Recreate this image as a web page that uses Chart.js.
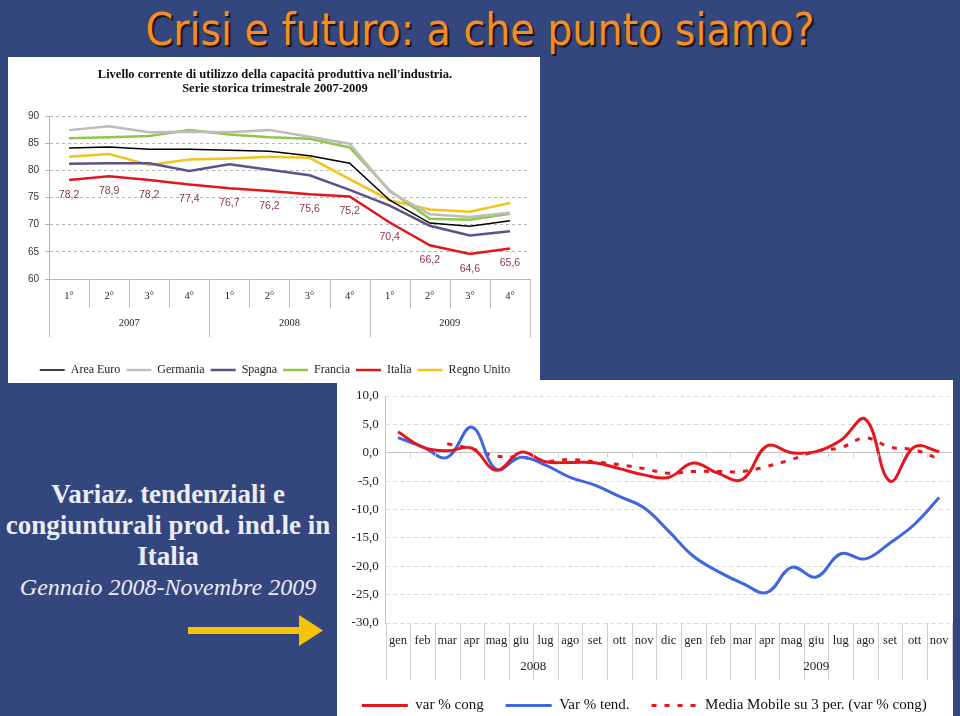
<!DOCTYPE html>
<html>
<head>
<meta charset="utf-8">
<script src="https://cdn.jsdelivr.net/npm/chart.js@4.4.1/dist/chart.umd.min.js"></script>
<style>
html, body { margin: 0; padding: 0; }
body { width: 960px; height: 716px; background: #34467e; position: relative; overflow: hidden; font-family: "Liberation Serif", serif; }
#titolo { position: absolute; left: 0; top: 0; width: 960px; text-align: center; font-family: "DejaVu Sans Condensed", "DejaVu Sans", sans-serif; font-stretch: condensed; font-size: 44px; line-height: 60px; color: #f68e1f; text-shadow: 2px 2px 1px #151515; }
#boxSopra { position: absolute; left: 8px; top: 57px; width: 532px; height: 326px; background: #fff; }
#boxSotto { position: absolute; left: 337px; top: 380px; width: 616px; height: 336px; background: #fff; }
canvas { position: absolute; left: 0; top: 0; }
#testo { position: absolute; left: 0; top: 479px; width: 336px; text-align: center; color: #ececf4; }
#testo .b { font-weight: bold; font-size: 27px; line-height: 31px; }
#testo .i { font-style: italic; font-size: 24px; line-height: 31px; }
#freccia { position: absolute; left: 185px; top: 614px; }
</style>
</head>
<body>
<div id="titolo">Crisi e futuro: a che punto siamo?</div>
<div id="boxSopra"><canvas id="graficoSopra" width="532" height="329"></canvas></div>
<div id="boxSotto"><canvas id="graficoSotto" width="616" height="343"></canvas></div>
<div id="testo">
  <div class="b">Variaz. tendenziali e</div>
  <div class="b">congiunturali prod. ind.le in</div>
  <div class="b">Italia</div>
  <div class="i">Gennaio 2008-Novembre 2009</div>
</div>
<svg id="freccia" width="142" height="34">
  <rect x="3" y="13" width="114" height="7" fill="#f5c400"/>
  <polygon points="114,1 138,16.5 114,32" fill="#f5c400"/>
</svg>
<script>
// --- grafico in alto: utilizzo capacità produttiva ---
const trimestri = ['1°', '2°', '3°', '4°', '1°', '2°', '3°', '4°', '1°', '2°', '3°', '4°'];
const anniTrim = ['2007', '2008', '2009'];
const spanTrim = [4, 4, 4];
const areaEuro = [84.1, 84.3, 83.9, 83.9, 83.7, 83.5, 82.7, 81.3, 74.5, 70.3, 69.7, 70.7];
const germania = [87.4, 88.1, 87.0, 87.1, 87.0, 87.4, 86.2, 84.9, 76.1, 71.9, 71.4, 72.2];
const spagna = [81.2, 81.3, 81.3, 79.9, 81.1, 80.1, 79.1, 76.4, 73.5, 69.8, 68.0, 68.8];
const francia = [85.9, 86.1, 86.3, 87.4, 86.6, 86.1, 85.8, 84.2, 76.3, 71.1, 70.9, 72.0];
const italia = [78.2, 78.9, 78.2, 77.4, 76.7, 76.2, 75.6, 75.2, 70.4, 66.2, 64.6, 65.6];
const regnoUnito = [82.5, 83.0, 81.0, 82.0, 82.2, 82.5, 82.3, 78.4, 74.5, 72.8, 72.4, 74.0];
const tickSopra = [60, 65, 70, 75, 80, 85, 90];

// --- grafico in basso: produzione industriale ---
const mesi = ['gen', 'feb', 'mar', 'apr', 'mag', 'giu', 'lug', 'ago', 'set', 'ott', 'nov', 'dic',
              'gen', 'feb', 'mar', 'apr', 'mag', 'giu', 'lug', 'ago', 'set', 'ott', 'nov'];
const anniMesi = ['2008', '2009'];
const spanMesi = [12, 11];
const varCong = [3.7, 1.0, 0.35, 0.8, -3.1, 0.1, -1.6, -1.7, -1.75, -2.8, -3.9, -4.35,
                 -1.8, -3.6, -4.7, 1.2, 0.0, 0.2, 2.2, 5.9, -5.0, 1.05, 0.2];
const varTend = [2.65, 1.05, -0.8, 4.5, -2.9, -0.8, -2.2, -4.35, -5.7, -7.7, -9.7, -13.8,
                 -18.2, -20.9, -23.0, -24.6, -20.2, -21.9, -17.8, -18.7, -15.9, -12.6, -7.9];
const mediaMobile = [null, null, 1.6, 0.7, -0.6, -0.8, -1.5, -1.2, -1.6, -2.1, -2.8, -3.6,
                     -3.3, -3.3, -3.3, -2.4, -1.2, 0.3, 0.9, 2.6, 1.0, 0.5, -1.1];
const tickSotto = [-30, -25, -20, -15, -10, -5, 0, 5, 10];

// separatori delle categorie sotto l'asse + etichette degli anni
const separatori = {
    id: 'separatori',
    afterDraw(chart, args, opts) {
        const x = chart.scales.x, ctx = chart.ctx, area = chart.chartArea;
        const n = chart.data.labels.length;
        const half = (x.getPixelForValue(1) - x.getPixelForValue(0)) / 2;
        const inizi = new Set();
        let acc = 0;
        opts.spans.forEach(s => { inizi.add(acc); acc += s; });
        inizi.add(acc);
        ctx.save();
        ctx.strokeStyle = opts.color;
        ctx.lineWidth = 1;
        for (let i = 0; i <= n; i++) {
            const px = Math.round(x.getPixelForValue(i) - half) + 0.5;
            ctx.beginPath();
            ctx.moveTo(px, area.bottom);
            ctx.lineTo(px, inizi.has(i) ? opts.yearBottom : opts.tickBottom);
            ctx.stroke();
            if (opts.zeroTicks && i > 0 && i < n) {
                const y0 = Math.round(chart.scales.y.getPixelForValue(0)) + 0.5;
                ctx.beginPath();
                ctx.moveTo(px, y0);
                ctx.lineTo(px, y0 + 4);
                ctx.stroke();
            }
        }
        ctx.fillStyle = opts.fontColor;
        ctx.font = opts.font;
        ctx.textAlign = 'center';
        ctx.textBaseline = 'middle';
        acc = 0;
        opts.labels.forEach((lab, k) => {
            const c = (x.getPixelForValue(acc) + x.getPixelForValue(acc + opts.spans[k] - 1)) / 2;
            ctx.fillText(lab, c, opts.labelY);
            acc += opts.spans[k];
        });
        ctx.restore();
    }
};

// etichette dei valori dell'Italia
const etichetteItalia = {
    id: 'etichetteItalia',
    afterDatasetsDraw(chart) {
        const idx = chart.data.datasets.findIndex(d => d.label === 'Italia');
        const meta = chart.getDatasetMeta(idx);
        const ctx = chart.ctx;
        ctx.save();
        ctx.font = '10.5px "Liberation Sans", sans-serif';
        ctx.fillStyle = '#8a3848';
        ctx.textAlign = 'center';
        ctx.textBaseline = 'middle';
        meta.data.forEach((pt, i) => ctx.fillText(italia[i].toFixed(1).replace('.', ','), pt.x, pt.y + 15));
        ctx.restore();
    }
};

// voci di legenda con il tratteggio e lo spessore della serie
const vociLegenda = chart => Chart.defaults.plugins.legend.labels.generateLabels(chart).map((v, i) => {
    const ds = chart.data.datasets[i];
    return { ...v, lineDash: ds.borderDash || [], lineWidth: ds.borderWidth, strokeStyle: ds.borderColor };
});

const linea = (label, data, color, width) => ({
    label, data, borderColor: color, backgroundColor: color, borderWidth: width,
    pointRadius: 0, tension: 0, fill: false
});

new Chart(document.getElementById('graficoSopra'), {
    type: 'line',
    data: {
        labels: trimestri,
        datasets: [
            linea('Area Euro', areaEuro, '#000000', 1.5),
            linea('Germania', germania, '#bcbcbc', 2.5),
            linea('Spagna', spagna, '#5f5187', 2.5),
            linea('Francia', francia, '#8fc74a', 2.5),
            linea('Italia', italia, '#e0181c', 2.5),
            linea('Regno Unito', regnoUnito, '#f1c31c', 2.5)
        ]
    },
    options: {
        responsive: false,
        animation: false,
        layout: { padding: { left: 12, right: 10, top: 0, bottom: 0 } },
        plugins: {
            title: {
                display: true,
                text: ["Livello corrente di utilizzo della capacità produttiva nell'industria.", 'Serie storica trimestrale 2007-2009'],
                color: '#111',
                font: { family: '"Liberation Serif", serif', size: 12.5, weight: 'bold', lineHeight: 1.12 },
                padding: { top: 11, bottom: 20 }
            },
            legend: {
                position: 'bottom',
                labels: {
                    usePointStyle: true, pointStyle: 'line', pointStyleWidth: 25, boxHeight: 10,
                    color: '#222', padding: 6, generateLabels: vociLegenda,
                    font: { family: '"Liberation Serif", serif', size: 12 }
                }
            },
            tooltip: { enabled: false },
            separatori: { spans: spanTrim, labels: anniTrim, color: '#bdbdbd', tickBottom: 251, yearBottom: 280,
                          labelY: 266, font: '10.5px "Liberation Serif", serif', fontColor: '#222' }
        },
        scales: {
            x: {
                offset: true,
                grid: { display: false },
                border: { display: false },
                ticks: { color: '#222', padding: 3, font: { family: '"Liberation Serif", serif', size: 10.5 } },
                afterFit: s => { s.height = 79; }
            },
            y: {
                min: 60, max: 90,
                afterBuildTicks: s => { s.ticks = tickSopra.map(v => ({ value: v })); },
                afterFit: s => { s.width = 29; },
                grid: { color: '#b5b5b5', tickLength: 4, tickColor: '#b5b5b5' },
                border: { display: true, color: '#b5b5b5', dash: c => (c.type === 'tick' && c.tick.value !== 60) ? [3, 3] : [] },
                ticks: { color: '#333', padding: 6, font: { family: '"Liberation Sans", sans-serif', size: 10 } }
            }
        }
    },
    plugins: [separatori, etichetteItalia]
});

new Chart(document.getElementById('graficoSotto'), {
    type: 'line',
    data: {
        labels: mesi,
        datasets: [
            { label: 'var % cong', data: varCong, borderColor: '#e5161b', backgroundColor: '#e5161b', borderWidth: 3,
              pointRadius: 0, tension: 0.4, fill: false },
            { label: 'Var % tend.', data: varTend, borderColor: '#3e66de', backgroundColor: '#3e66de', borderWidth: 3,
              pointRadius: 0, tension: 0.4, fill: false },
            { label: 'Media Mobile su 3 per. (var % cong)', data: mediaMobile, borderColor: '#e5161b', backgroundColor: '#e5161b',
              borderWidth: 3, borderDash: [5, 8], pointRadius: 0, tension: 0.4, fill: false }
        ]
    },
    options: {
        responsive: false,
        animation: false,
        layout: { padding: { left: 0, right: 1.5, top: 16, bottom: 0 } },
        plugins: {
            legend: {
                position: 'bottom',
                labels: {
                    usePointStyle: true, pointStyle: 'line', pointStyleWidth: 46, boxHeight: 14,
                    color: '#111', padding: 22, generateLabels: vociLegenda,
                    font: { family: '"Liberation Serif", serif', size: 15 }
                }
            },
            tooltip: { enabled: false },
            separatori: { spans: spanMesi, labels: anniMesi, color: '#d0d0d0', tickBottom: 300, yearBottom: 300,
                          labelY: 287, font: '13px "Liberation Serif", serif', fontColor: '#222', zeroTicks: true }
        },
        scales: {
            x: {
                offset: true,
                grid: { display: false },
                border: { display: false },
                ticks: { color: '#222', padding: 2.5, maxRotation: 0, autoSkip: false,
                         font: { family: '"Liberation Serif", serif', size: 12.5 } },
                afterFit: s => { s.height = 53; }
            },
            y: {
                min: -30, max: 10,
                afterBuildTicks: s => { s.ticks = tickSotto.map(v => ({ value: v })); },
                afterFit: s => { s.width = 48.7; },
                grid: { color: c => c.tick && c.tick.value === 0 ? '#c4c4c4' : '#dcdcdc', drawTicks: false },
                border: { display: true, color: '#c4c4c4', dash: c => (c.type === 'tick' && c.tick.value !== 0) ? [4, 3] : [] },
                ticks: { color: '#222', padding: 7, font: { family: '"Liberation Serif", serif', size: 13 },
                         callback: v => v.toFixed(1).replace('.', ',') }
            }
        }
    },
    plugins: [separatori]
});
</script>
</body>
</html>
